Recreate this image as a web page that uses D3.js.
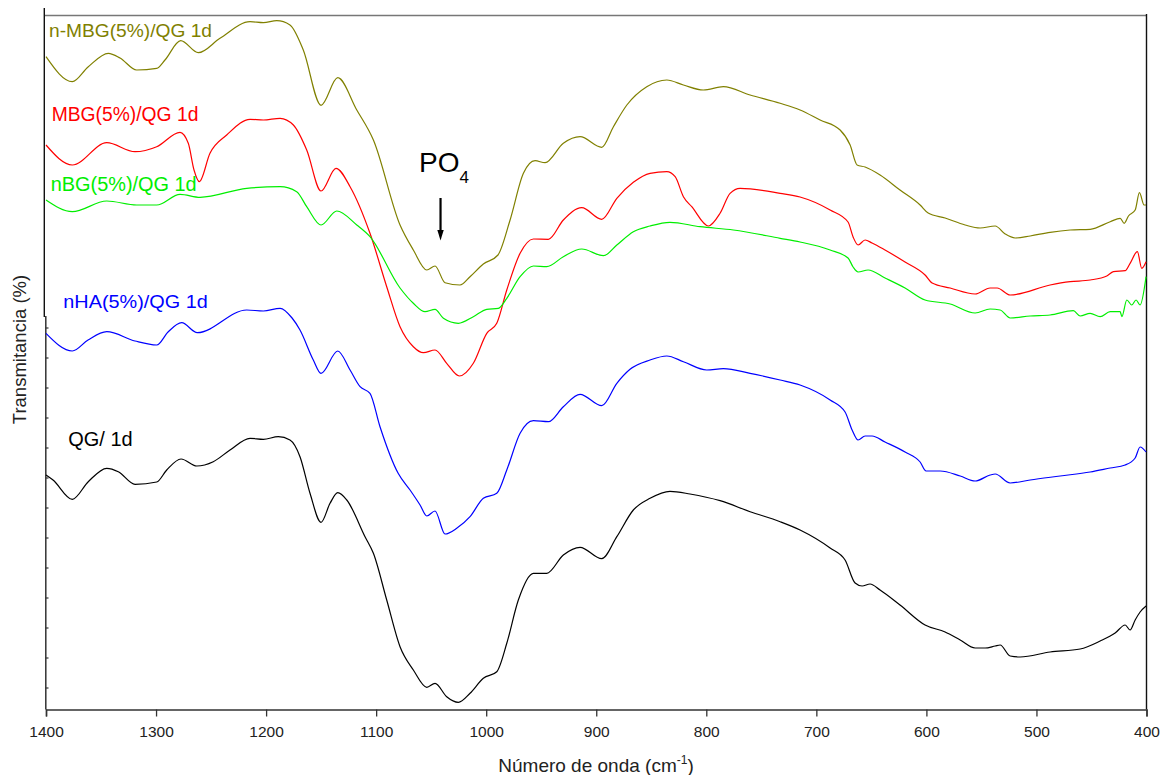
<!DOCTYPE html>
<html><head><meta charset="utf-8">
<script src="https://cdn.jsdelivr.net/npm/d3@7/dist/d3.min.js"></script>
<style>
body{margin:0;background:#fff;}
svg{display:block;font-family:"Liberation Sans",Arial,sans-serif;}
</style></head>
<body><svg id="chart" width="1169" height="775"></svg>
<script>
// ---- data: [wavenumber (cm-1), transmittance (offset, a.u.)] ----
const seriesNames = ["QG/ 1d","nHA(5%)/QG 1d","MBG(5%)/QG 1d","nBG(5%)/QG 1d","n-MBG(5%)/QG 1d"];
const seriesColors = ["#000000","#0000ff","#ff0000","#00ee00","#808000"];
const xTicks = [1400,1300,1200,1100,1000,900,800,700,600,500,400];
const xMinorTicks = [1350,1250,1150,1050,950,850,750,650,550,450];

const qg = [[1400,235],[1393.6,230],[1376.1,210.7],[1361.6,228.3],[1344.8,241.7],[1334.3,238.3],[1319.1,225.7],[1299.4,228],[1290.3,240],[1277.3,251],[1263,244],[1248,248.3],[1232.8,260],[1214.6,271.7],[1202.5,270.7],[1188.9,273.3],[1178.3,270],[1169.2,253.3],[1160.1,216.7],[1150.1,187.7],[1141.9,206.7],[1134.9,217.3],[1126.7,210],[1110.1,173.3],[1102.5,156.7],[1090.4,110],[1078.3,63.3],[1066.2,40],[1054,22.7],[1046.5,26.7],[1035.9,13.3],[1025.3,7.7],[1014.7,16.7],[1002.6,31.7],[990.4,38.3],[981.3,66.7],[970.8,110],[957.1,136.7],[945,136.7],[929.9,155],[914.7,162.7],[895,151.3],[881.3,173.3],[866.3,200],[851.1,211.7],[833,218.7],[814.8,216],[787.5,209.3],[760.2,198.3],[732.9,188.3],[714.8,180],[687.5,162],[673.9,150],[664.8,127],[658.4,124],[651.2,126],[642.1,120],[624,105],[601.2,85],[583,78],[569.3,70],[555.7,62],[546.7,62],[537.5,64],[533,65],[523.9,54],[514.8,53],[487.6,58],[460.3,61],[442.1,69],[428.5,77],[419.4,85],[414.9,80],[410.3,90],[405.8,98],[400.4,104]];

const nha = [[1400,376.7],[1376.1,359],[1361.8,370],[1344.8,378.3],[1319.1,369],[1299.4,365],[1289.1,378],[1276.7,387.3],[1262.5,377.3],[1217.6,400],[1202.5,399],[1187.3,401.7],[1176.4,392],[1169.2,380],[1157.1,350],[1150.1,336.7],[1134.9,359],[1123.7,340],[1114.6,323.3],[1105.6,316.7],[1096.5,283.3],[1080,236.7],[1069.2,220],[1060.1,205],[1054,194],[1046.5,199],[1037.4,176],[1026.8,181.7],[1014.7,193.3],[1002.6,211.7],[990.4,216.7],[981.3,240],[969.2,276.7],[957.1,289.3],[943.5,288.3],[929.9,303.3],[914.7,315.7],[895,304.3],[881.3,326.7],[869.3,340.7],[851.1,350],[835.9,354],[820.8,348.3],[799.6,340],[784.5,341.3],[760.2,336.7],[732.9,330],[714.8,325],[687.5,310],[673.9,298],[667.5,280],[662.1,270],[655.7,274],[649.4,274],[637.6,268],[619.4,258],[605.7,248],[600.3,239],[587.5,239],[569.3,234],[555.7,229],[542.1,235],[537.5,236],[523.9,227],[505.7,230],[478.5,234],[451.2,238],[433,242],[419.4,245],[410.3,252],[405.8,263],[400.4,258]];

const mbg = [[1400,565],[1376.1,545],[1344.8,567.3],[1319.1,558.3],[1299.4,563.3],[1278.2,577.7],[1270.7,566.7],[1265.5,540],[1260.7,528.3],[1251,556.7],[1235.8,575],[1214.6,590.7],[1202.5,590],[1187.3,591.7],[1175.2,585],[1163.1,560],[1150.1,519],[1136.5,541.7],[1123.7,523.3],[1105.6,476.7],[1090.4,423.3],[1078.3,383.3],[1066.2,363.3],[1057.1,357.3],[1046.5,360],[1035.9,346.7],[1024.4,334],[1011.7,346.7],[999.5,376.7],[990.4,386.7],[981.3,420],[969.2,456.7],[957.1,471],[943.5,470.7],[929.9,490],[913.2,502.3],[895,490.7],[881.3,511.7],[866.3,527.7],[851.1,536.7],[835.9,538.3],[828.3,533.3],[820.8,513.3],[813.2,503.3],[798.1,484],[787.5,496.7],[778.4,516.7],[769.3,521.7],[732.9,516.7],[714.8,513],[687.5,500],[671.2,488],[666.6,473],[662.1,465],[655.7,470],[649.4,467],[637.6,460],[619.4,448],[601.2,435],[594.8,427],[578.4,422],[555.7,416],[542.1,422],[535.7,422],[523.9,415],[487.6,425],[469.4,428.3],[451.2,430],[436.1,434],[430.1,438.3],[419.4,439.3],[414.9,446.7],[408.3,458.3],[404.3,441.7],[400.4,448.3]];

const nbg = [[1400,510],[1376.1,498.3],[1344.8,509],[1317.6,505],[1299.4,505],[1278.2,515.7],[1260,512.7],[1217.6,521.7],[1187.3,523.3],[1172.2,518.3],[1163.1,503.3],[1150.1,485],[1135.8,499],[1117.6,485],[1105.6,473.3],[1078.3,422],[1066.2,406.7],[1055.6,398.3],[1046.5,400.7],[1038.9,391.7],[1025.3,386.7],[1011.7,393.3],[999.5,400.7],[989,401.7],[981.3,411.7],[969.2,433.3],[957.1,444],[945,443.3],[929.9,453.3],[913.2,461],[893.5,454.3],[881.3,465],[866.3,478.3],[851.1,484],[833,487.7],[805.7,483.3],[775.4,480],[732.9,471.7],[714.8,468],[687.5,460],[671.2,452],[666.6,443],[662.1,438],[653,440],[637.6,432],[619.4,422],[601.2,410],[578.4,406],[555.7,397],[542.1,401],[533,400],[523.9,392],[505.7,394],[487.6,395],[466.5,399.3],[460.3,394],[451.2,396.7],[442.1,393.3],[433,398.3],[423.9,398.3],[422.4,393.3],[417.9,410],[413.4,405],[409.5,410],[405.8,405],[400.4,433.3]];

const nmbg = [[1400,653.3],[1376.1,628.3],[1361.8,643],[1343.4,656.7],[1332.7,652],[1317.6,640],[1299.4,641.7],[1291.9,650],[1277.6,669.3],[1261.6,657.3],[1241.9,671.7],[1214.6,688.3],[1202.5,687.3],[1190.3,689.3],[1178.3,685],[1166.2,660],[1150.1,604.7],[1134.9,632.3],[1117.6,600],[1102.5,570],[1078.3,485],[1066.2,460],[1054,440],[1046.5,444],[1037.4,427.3],[1023.8,425],[1014.7,433.3],[1002.6,446],[989.3,455],[978.3,490],[966.2,536.7],[955.6,549.3],[946.5,547.3],[929.9,566.7],[914.7,573.3],[895,562.7],[884.4,583.3],[872.2,605],[854.1,623.3],[835.9,630],[820.8,625],[802.7,620],[784.5,623.3],[760.2,615],[732.9,606.7],[714.8,600],[696.6,590],[678.4,580],[669.3,565],[663,545],[655.7,543],[642.1,535],[624,520],[605.7,505],[598.4,497],[583,492],[564.8,485],[551.2,482],[537.5,484],[528.4,476],[519.4,472],[505.7,474],[487.6,477.7],[469.4,480],[451.2,480.7],[433,488.3],[423.9,491.7],[420.3,486.7],[416.4,494],[410.3,500],[406.4,517.3],[402.2,505],[400.4,505]];

const seriesData = [qg, nha, mbg, nbg, nmbg];

// ---- layout ----
const svg = d3.select("#chart");
const x = d3.scaleLinear().domain([1400, 400]).range([46, 1146.5]);
const y = d3.scaleLinear().domain([0, 700]).range([710, 10]);
const axisY = 709.5;

// frame lines
svg.append("line").attr("x1",45).attr("x2",1147).attr("y1",15.5).attr("y2",15.5)
  .attr("stroke","#777").attr("stroke-width",1.6);
svg.append("line").attr("x1",44.3).attr("x2",44.3).attr("y1",8).attr("y2",317)
  .attr("stroke","#111").attr("stroke-width",1.4);
svg.append("line").attr("x1",45.8).attr("x2",45.8).attr("y1",316).attr("y2",axisY)
  .attr("stroke","#333").attr("stroke-width",1.5);
svg.append("line").attr("x1",1146.5).attr("x2",1146.5).attr("y1",14).attr("y2",axisY)
  .attr("stroke","#111").attr("stroke-width",1.4);

// left minor ticks (lower panel)
const leftTicks = d3.range(328, 700, 30);
svg.append("g").selectAll("line").data(leftTicks).join("line")
  .attr("x1",45.8).attr("x2",48.5).attr("y1",d=>d).attr("y2",d=>d)
  .attr("stroke","#333").attr("stroke-width",1.2);

// curves
const line = d3.line().x(d=>x(d[0])).y(d=>y(d[1])).curve(d3.curveMonotoneX);
seriesData.forEach((s,i)=>{
  svg.append("path").datum(s).attr("d",line).attr("fill","none")
    .attr("stroke",seriesColors[i]).attr("stroke-width",1.2);
});

// x axis
const gx = svg.append("g").attr("transform",`translate(0,${axisY})`);
gx.call(d3.axisBottom(x).tickValues(xMinorTicks).tickSize(4).tickFormat(""));
gx.call(d3.axisBottom(x).tickValues(xTicks).tickSize(7).tickFormat(d3.format("d")));
gx.selectAll("path.domain").attr("stroke","#333").attr("stroke-width",1.5);
gx.selectAll(".tick line").attr("stroke","#333").attr("stroke-width",1.3);
gx.selectAll(".tick text").attr("y",16).attr("fill","#222")
  .style("font-size","15.5px").style("font-family","'Liberation Sans',Arial,sans-serif");

// axis titles
const xt = svg.append("text").attr("x",596).attr("y",771.5).attr("text-anchor","middle")
  .attr("fill","#222").style("font-size","19px");
xt.append("tspan").text("Número de onda (cm");
xt.append("tspan").attr("dy",-8).style("font-size","12px").text("-1");
xt.append("tspan").attr("dy",8).text(")");

svg.append("text").attr("transform","translate(25.5,349.5) rotate(-90)")
  .attr("text-anchor","middle").attr("fill","#222").style("font-size","18.5px")
  .text("Transmitancia (%)");

// series labels
const labelPos = [
  {x:68.3, y:446, len:64.4, fs:20},
  {x:63.3, y:308, len:144.4, fs:19},
  {x:51.7, y:120.5, len:146.7, fs:19.3},
  {x:50.7, y:190.5, len:146, fs:19.3},
  {x:49, y:37, len:163, fs:17.5}
];
labelPos.forEach((p,i)=>{
  svg.append("text").attr("x",p.x).attr("y",p.y).attr("fill",seriesColors[i])
    .attr("textLength",p.len).attr("lengthAdjust","spacingAndGlyphs")
    .style("font-size",p.fs+"px").text(seriesNames[i]);
});

// PO4 annotation
const po = svg.append("text").attr("x",419).attr("y",171.7).attr("fill","#000")
  .style("font-size","28px");
po.append("tspan").text("PO");
po.append("tspan").attr("dy",11.5).style("font-size","17px").text("4");
const ax = x(1041.5);
svg.append("line").attr("x1",ax).attr("x2",ax).attr("y1",198).attr("y2",233)
  .attr("stroke","#000").attr("stroke-width",2.2);
svg.append("path").attr("d",`M${ax-3.2},230 L${ax+3.2},230 L${ax},240.5 Z`).attr("fill","#000");
</script></body></html>
